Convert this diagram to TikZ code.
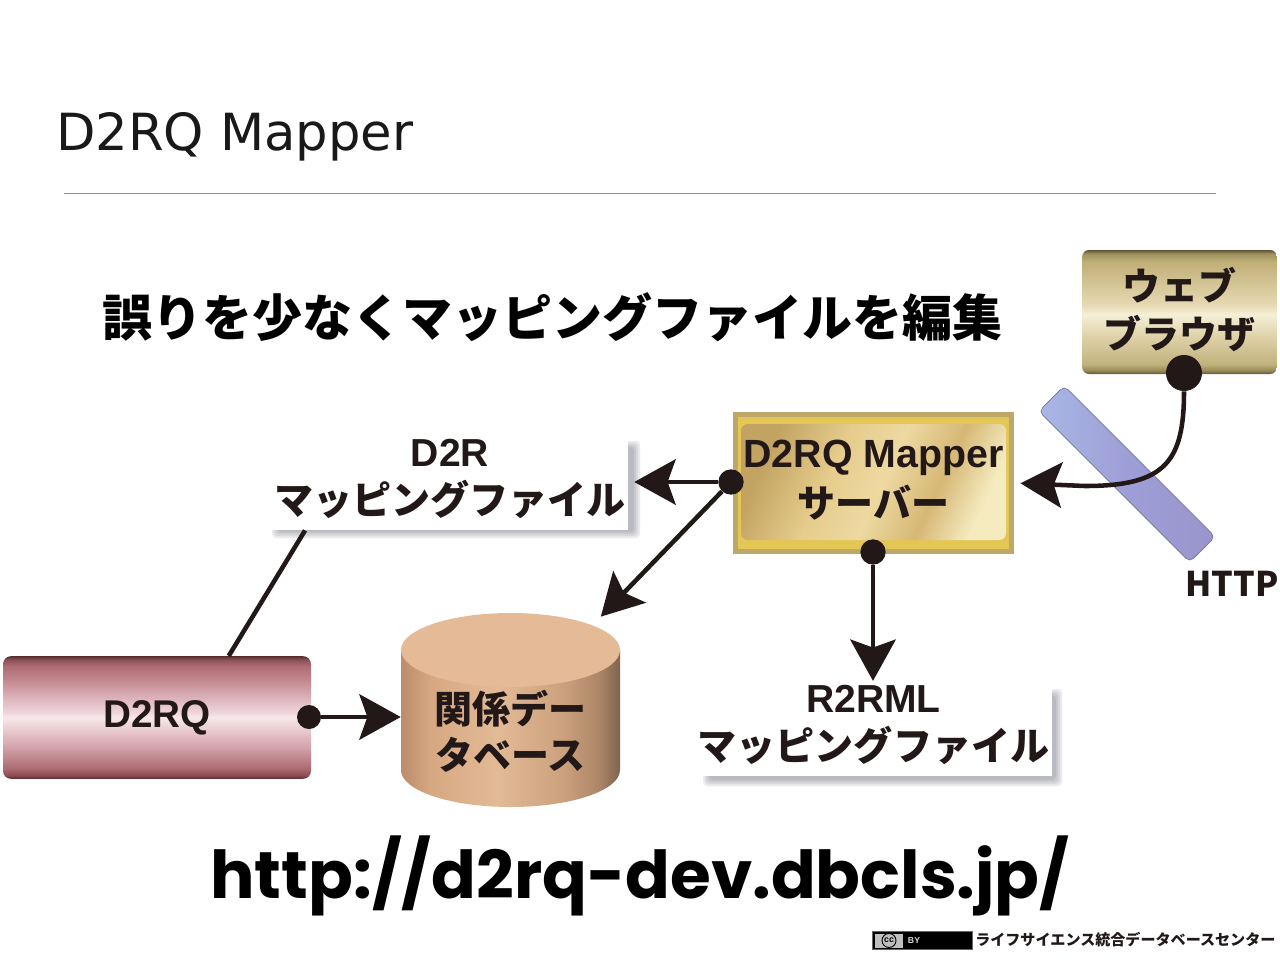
\documentclass[tikz,border=0pt]{standalone}
\usepackage{fontspec}
\usetikzlibrary{arrows.meta,shapes.geometric}
\newfontfamily\cjk{Noto Sans CJK JP}
\newfontfamily\titlefont{DejaVu Sans}
\newfontfamily\urlfont{Poppins}
\newfontfamily\arialb{Liberation Sans}
\pgfdeclareverticalshading{pinkbar}{100bp}{rgb(0bp)=(0.34,0.18,0.18); rgb(25bp)=(0.34,0.18,0.18); rgb(26.5bp)=(0.55,0.30,0.32); rgb(29bp)=(0.67,0.41,0.44); rgb(38bp)=(0.83,0.64,0.67); rgb(50bp)=(0.97,0.91,0.92); rgb(52bp)=(0.94,0.84,0.87); rgb(65bp)=(0.77,0.54,0.57); rgb(71bp)=(0.68,0.42,0.45); rgb(73.5bp)=(0.55,0.32,0.34); rgb(75bp)=(0.34,0.18,0.18); rgb(100bp)=(0.34,0.18,0.18)}
\pgfdeclareverticalshading{khaki}{100bp}{rgb(0bp)=(0.38,0.34,0.20); rgb(25bp)=(0.38,0.34,0.20); rgb(26.5bp)=(0.60,0.55,0.35); rgb(29bp)=(0.76,0.70,0.49); rgb(40bp)=(0.87,0.82,0.66); rgb(49bp)=(0.96,0.94,0.84); rgb(53bp)=(0.90,0.85,0.70); rgb(70bp)=(0.76,0.69,0.47); rgb(73.5bp)=(0.62,0.57,0.37); rgb(75bp)=(0.36,0.32,0.18); rgb(100bp)=(0.36,0.32,0.18)}
\pgfdeclarehorizontalshading{tan}{100bp}{rgb(0bp)=(0.74,0.55,0.42); rgb(25bp)=(0.74,0.55,0.42); rgb(32bp)=(0.84,0.66,0.51); rgb(47bp)=(0.89,0.73,0.59); rgb(62bp)=(0.80,0.63,0.49); rgb(70bp)=(0.68,0.53,0.41); rgb(75bp)=(0.50,0.39,0.31); rgb(100bp)=(0.50,0.39,0.31)}
\pgfdeclarehorizontalshading{goldface}{100bp}{rgb(0bp)=(0.76,0.64,0.38); rgb(25bp)=(0.76,0.64,0.38); rgb(40bp)=(0.90,0.80,0.55); rgb(52bp)=(0.93,0.85,0.63); rgb(64bp)=(0.84,0.72,0.46); rgb(75bp)=(0.96,0.92,0.75); rgb(100bp)=(0.96,0.92,0.75)}
\pgfdeclarehorizontalshading{barblue}{100bp}{rgb(0bp)=(0.66,0.72,0.90); rgb(25bp)=(0.66,0.72,0.90); rgb(50bp)=(0.62,0.62,0.84); rgb(75bp)=(0.60,0.58,0.80); rgb(100bp)=(0.60,0.58,0.80)}
\definecolor{inkc}{RGB}{34,24,24}
\definecolor{shadowc}{RGB}{90,90,110}
\definecolor{barlinec}{RGB}{110,115,160}
\definecolor{goldedge}{RGB}{190,168,105}
\definecolor{goldband}{RGB}{228,198,85}
\definecolor{dbtop}{RGB}{229,186,151}
\tikzset{
  x=0.75pt,y=-0.75pt,
  link/.style={line width=3.4pt,draw=inkc,line cap=butt},
  arr/.style={link,-{Stealth[length=31pt,width=34pt,inset=6pt]}},
  dotn/.style={circle,fill=inkc,inner sep=0pt,minimum size=#1},
  paper/.style={rectangle,fill=white,draw=none,align=center,inner sep=0pt,font=\cjk\bfseries\fontsize{29.3}{36}\selectfont,text=inkc},
  softshade/.style={draw=none,fill=shadowc,fill opacity=0.12,rounded corners=3pt}
}
\begin{document}
\begin{tikzpicture}
\useasboundingbox (0,0) rectangle (1280,960);
\fill[white] (0,0) rectangle (1280,960);
\node (title) [anchor=west,inner sep=0pt,text=black!90,font=\titlefont\fontsize{38.4}{45}\selectfont] at (56,137) {D2RQ Mapper};
\draw[color=black!45,line width=0.75pt] (64,193.5) -- (1216,193.5);
\node (head) [inner sep=0pt,text=black,font=\cjk\bfseries\fontsize{37.5}{44}\selectfont] at (552,317) {誤りを少なくマッピングファイルを編集};
% paper shadows
\foreach \d in {0,2,4,6}{
  \fill[softshade] (272+\d,441+\d) rectangle (640-\d,538-\d);
  \fill[softshade] (703+\d,689+\d) rectangle (1062-\d,786-\d);
}
\node (d2r) [paper,minimum width=267pt,minimum height=73pt] at (450,481.5) {{\arialb\bfseries D2R}\\マッピングファイル\\[-29.5pt]\mbox{}};
\node (r2rml) [paper,minimum width=268pt,minimum height=71pt] at (873.5,728.5) {{\arialb\bfseries R2RML}\\マッピングファイル\\[-28pt]\mbox{}};
% browser
\node (browser) [rectangle,rounded corners=5pt,minimum width=146pt,minimum height=93pt,inner sep=0pt,shading=khaki,align=center,text=inkc,font=\cjk\bfseries\fontsize{28.5}{36}\selectfont] at (1179.5,312) {ウェブ\\ブラウザ\\[-29.5pt]\mbox{}};
% bar
\node (bar) [rectangle,rounded corners=4pt,rotate=-45,minimum width=160pt,minimum height=27pt,inner sep=0pt,shading=barblue,draw=barlinec,line width=0.5pt] at (1127,474) {};
\node (http) [anchor=east,inner sep=0pt,text=inkc,font=\cjk\bfseries\fontsize{25.5}{30}\selectfont] at (1279,584) {HTTP};
% mapper
\fill[goldedge] (733,412) rectangle (1014,554);
\fill[goldband] (738,417) rectangle (1009,549);
\path[shading=goldface,shading angle=-25,rounded corners=5pt] (741,424) rectangle (1006,540);
\node (mapper) [rectangle,minimum width=211pt,minimum height=107pt,inner sep=0pt,align=center,text=inkc,font=\cjk\bfseries\fontsize{28.5}{38}\selectfont] at (873.5,483) {{\arialb\bfseries\fontsize{29.5}{38}\selectfont D2RQ Mapper}\\サーバー\\[-31.5pt]\mbox{}};
% d2rq
\node (d2rq) [rectangle,rounded corners=6pt,minimum width=231pt,minimum height=92pt,inner sep=0pt,shading=pinkbar,text=inkc,font=\arialb\bfseries\fontsize{29}{32}\selectfont] at (157,717.5) {D2RQ};
% cylinder
\path[shading=tan] (401,650) -- (401,770) arc[start angle=180,end angle=0,x radius=109.5,y radius=37] -- (620,650) -- cycle;
\fill[dbtop] (510.5,650) circle[x radius=109.5,y radius=37];
\node (db) [cylinder,shape border rotate=90,aspect=0.676,minimum width=164.25pt,minimum height=145.5pt,inner sep=0pt,align=center,text=inkc,font=\cjk\bfseries\fontsize{28.5}{35}\selectfont] at (510.5,710) {\mbox{}\\[22pt]関係デー\\タベース};
% dots
\node (dotleft) [dotn=19pt] at (731,482) {};
\node (dotdown) [dotn=19pt] at (873,552) {};
\node (dotdb) [dotn=18pt] at (309,717) {};
\node (dotbrowser) [dotn=27pt] at (1184,373) {};
% links
\draw[arr,shorten >=4.5pt] (dotleft) -- (d2r.east |- dotleft);
\draw[arr,shorten >=-21pt] (dotleft) -- (db);
\draw[arr] (dotdown) -- (r2rml.north -| dotdown);
\draw[arr] (dotdb) -- (db.west |- dotdb);
\draw[link] ([xshift=25pt]d2r.south west) -- ([xshift=169.5pt]d2rq.north west);
\draw[arr,shorten >=4.5pt] (dotbrowser.south) .. controls (1184,462) and (1165,486) .. (1085,486) -- (mapper.east);
% footer
\node (badge) [rectangle,minimum width=75pt,minimum height=13pt,inner sep=0pt,fill=black,draw=black!60,line width=0.75pt] at (922,940.5) {};
\fill[black!25] (875,934) rectangle (903,947.5);
\node (cc) [circle,draw=black,line width=0.7pt,inner sep=0pt,minimum size=10.5pt,font=\arialb\bfseries\fontsize{6.5}{7}\selectfont,text=black] at (889,940.5) {cc};
\node (by) [inner sep=0pt,text=white!85!black,font=\arialb\bfseries\fontsize{6.5}{7}\selectfont] at (914,940.5) {BY};
\node (foot) [anchor=west,inner sep=0pt,text=inkc,font=\cjk\bfseries\fontsize{11.3}{13}\selectfont] at (975,939.5) {ライフサイエンス統合データベースセンター};
\node (url) [inner sep=0pt,text=black,font=\urlfont\bfseries\fontsize{49.5}{60}\selectfont] at (640,876) {http://d2rq-dev.dbcls.jp/};
\end{tikzpicture}
\end{document}
